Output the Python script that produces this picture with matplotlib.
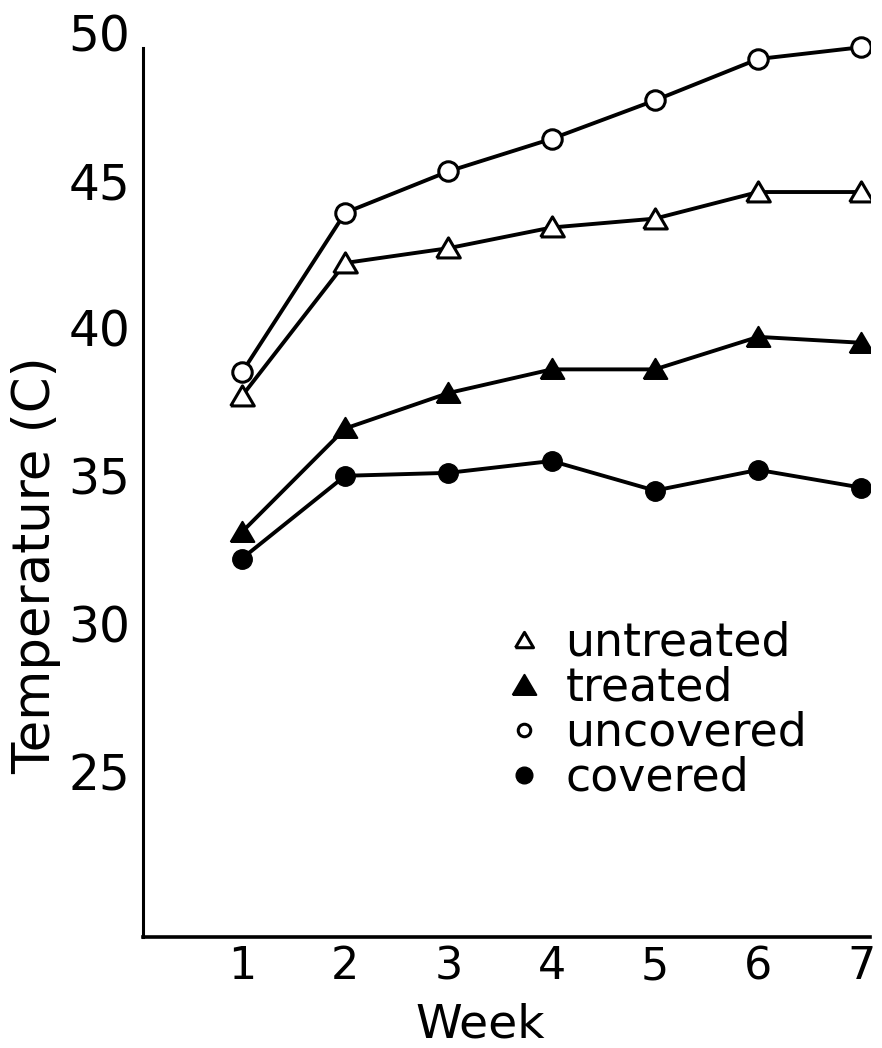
import matplotlib
matplotlib.use("Agg")
import matplotlib.pyplot as plt

weeks = [1, 2, 3, 4, 5, 6, 7]
untreated = [37.7, 42.2, 42.7, 43.4, 43.7, 44.6, 44.6]
treated = [33.1, 36.6, 37.8, 38.6, 38.6, 39.7, 39.5]
uncovered = [38.5, 43.9, 45.3, 46.4, 47.7, 49.1, 49.5]
covered = [32.2, 35.0, 35.1, 35.5, 34.5, 35.2, 34.6]
yticks = [25, 30, 35, 40, 45, 50]

plt.rcParams['font.family'] = ['DejaVu Sans']

fig = plt.figure(figsize=(8.82, 10.48), dpi=100)
ax = fig.add_axes([0.162, 0.106, 0.824, 0.880])

# wide, flat triangle like the hand-drawn stencil
tri = [(-1.0, -0.8), (1.0, -0.8), (0.0, 0.9), (-1.0, -0.8)]

lw = 2.8
ax.plot(weeks, uncovered, color='black', lw=lw, marker='o', ms=14,
        mfc='white', mec='black', mew=2.2, label='uncovered', zorder=3)
ax.plot(weeks, untreated, color='black', lw=lw, marker=tri, ms=17,
        mfc='white', mec='black', mew=2.2, label='untreated', zorder=3)
ax.plot(weeks, treated, color='black', lw=lw, marker=tri, ms=17,
        mfc='black', mec='black', mew=1.5, label='treated', zorder=3)
ax.plot(weeks, covered, color='black', lw=lw, marker='o', ms=14,
        mfc='black', mec='black', label='covered', zorder=3)

ax.set_xlim(0.04, 7.08)
ax.set_ylim(19.4, 50.6)
ax.set_xticks(weeks)
ax.set_yticks(yticks)
ax.tick_params(axis='both', length=0)
ax.tick_params(axis='y', labelsize=35, pad=9)
ax.tick_params(axis='x', labelsize=32, pad=6)

for s in ['top', 'right']:
    ax.spines[s].set_visible(False)
ax.spines['left'].set_linewidth(2.2)
ax.spines['bottom'].set_linewidth(2.6)
ax.spines['left'].set_bounds(19.4, 49.47)

ax.set_xlabel('Week', fontsize=34)
ax.xaxis.set_label_coords(0.464, -0.071)
ax.set_ylabel('Temperature (C)', fontsize=37)
ax.yaxis.set_label_coords(-0.112, 0.403)

h, l = ax.get_legend_handles_labels()
order = [1, 2, 0, 3]
leg = ax.legend([h[i] for i in order], [l[i] for i in order],
                loc='center left', bbox_to_anchor=(0.465, 0.245),
                frameon=False, fontsize=33, handlelength=0.9,
                handletextpad=0.45, labelspacing=0.0, borderpad=0)
sizes = [13, 17, 9, 12]
for hd, sz in zip(leg.legend_handles, sizes):
    hd.set_linestyle('None')
    hd.set_markersize(sz)

fig.savefig('out.png', dpi=100, facecolor='white')
